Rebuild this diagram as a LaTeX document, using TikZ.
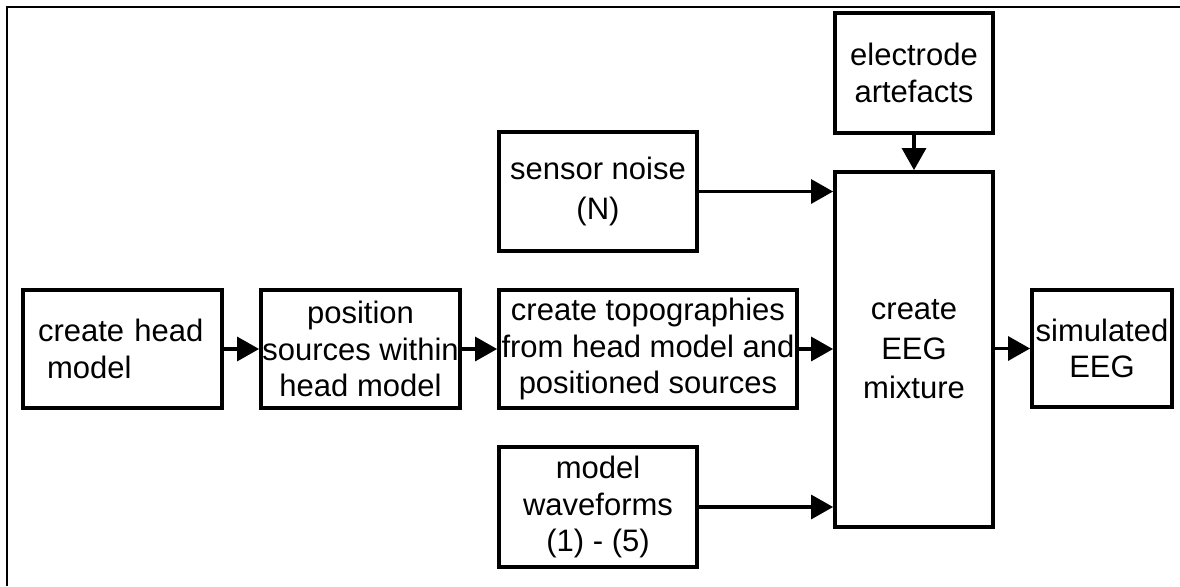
\documentclass[tikz,border=0pt]{standalone}
\usepackage{fontspec}
\setmainfont{Liberation Sans}
\usetikzlibrary{arrows.meta}
\tikzset{
  box/.style={draw, line width=3.8pt, rectangle, inner sep=0pt, align=center,
    font=\fontsize{31}{36.5}\selectfont},
  conn/.style={line width=3.2pt, -{Triangle[length=22pt,width=24pt]}},
  frame/.style={line width=1.7pt}
}
\begin{document}
\begin{tikzpicture}[x=1pt,y=-1pt]
\useasboundingbox (0,0) rectangle (1180,586);
\coordinate (fbl) at (7,586);
\coordinate (ftl) at (7,7.3);
\coordinate (ftr) at (1180,7.3);
\draw[frame] (fbl) -- (ftl) -- (ftr);

\node[box, minimum width=199pt, minimum height=118pt, align=left, text width=169pt, inner xsep=15pt] (head) at (122.5,349) {create head\\\hspace*{9pt}model};
\node[box, minimum width=199pt, minimum height=118pt] (pos) at (360.5,349) {position\\sources within\\head model};
\node[box, minimum width=298pt, minimum height=118pt] (topo) at (648,349) {create topographies\\from head model and\\positioned sources};
\node[box, minimum width=198pt, minimum height=119pt, font=\fontsize{31}{40}\selectfont] (noise) at (598,191.5) {sensor noise\\(N)};
\node[box, minimum width=198pt, minimum height=120pt] (wave) at (598,507) {model\\waveforms\\(1) - (5)};
\node[box, minimum width=158pt, minimum height=120pt] (elec) at (914,73) {electrode\\artefacts};
\node[box, minimum width=158pt, minimum height=355pt, font=\fontsize{31}{39.5}\selectfont] (mix) at (914,349.5) {create\\EEG\\mixture};
\node[box, minimum width=140pt, minimum height=117pt] (sim) at (1102,348.5) {simulated\\EEG};

\draw[conn] (head.east) -- (pos.west);
\draw[conn] (pos.east) -- (topo.west);
\draw[conn] (topo.east) -- (topo.east -| mix.west);
\draw[conn] (noise.east) -- (noise.east -| mix.west);
\draw[conn] (wave.east) -- (wave.east -| mix.west);
\draw[conn] (elec.south) -- (mix.north);
\draw[conn] (mix.east |- sim.west) -- (sim.west);
\end{tikzpicture}
\end{document}
